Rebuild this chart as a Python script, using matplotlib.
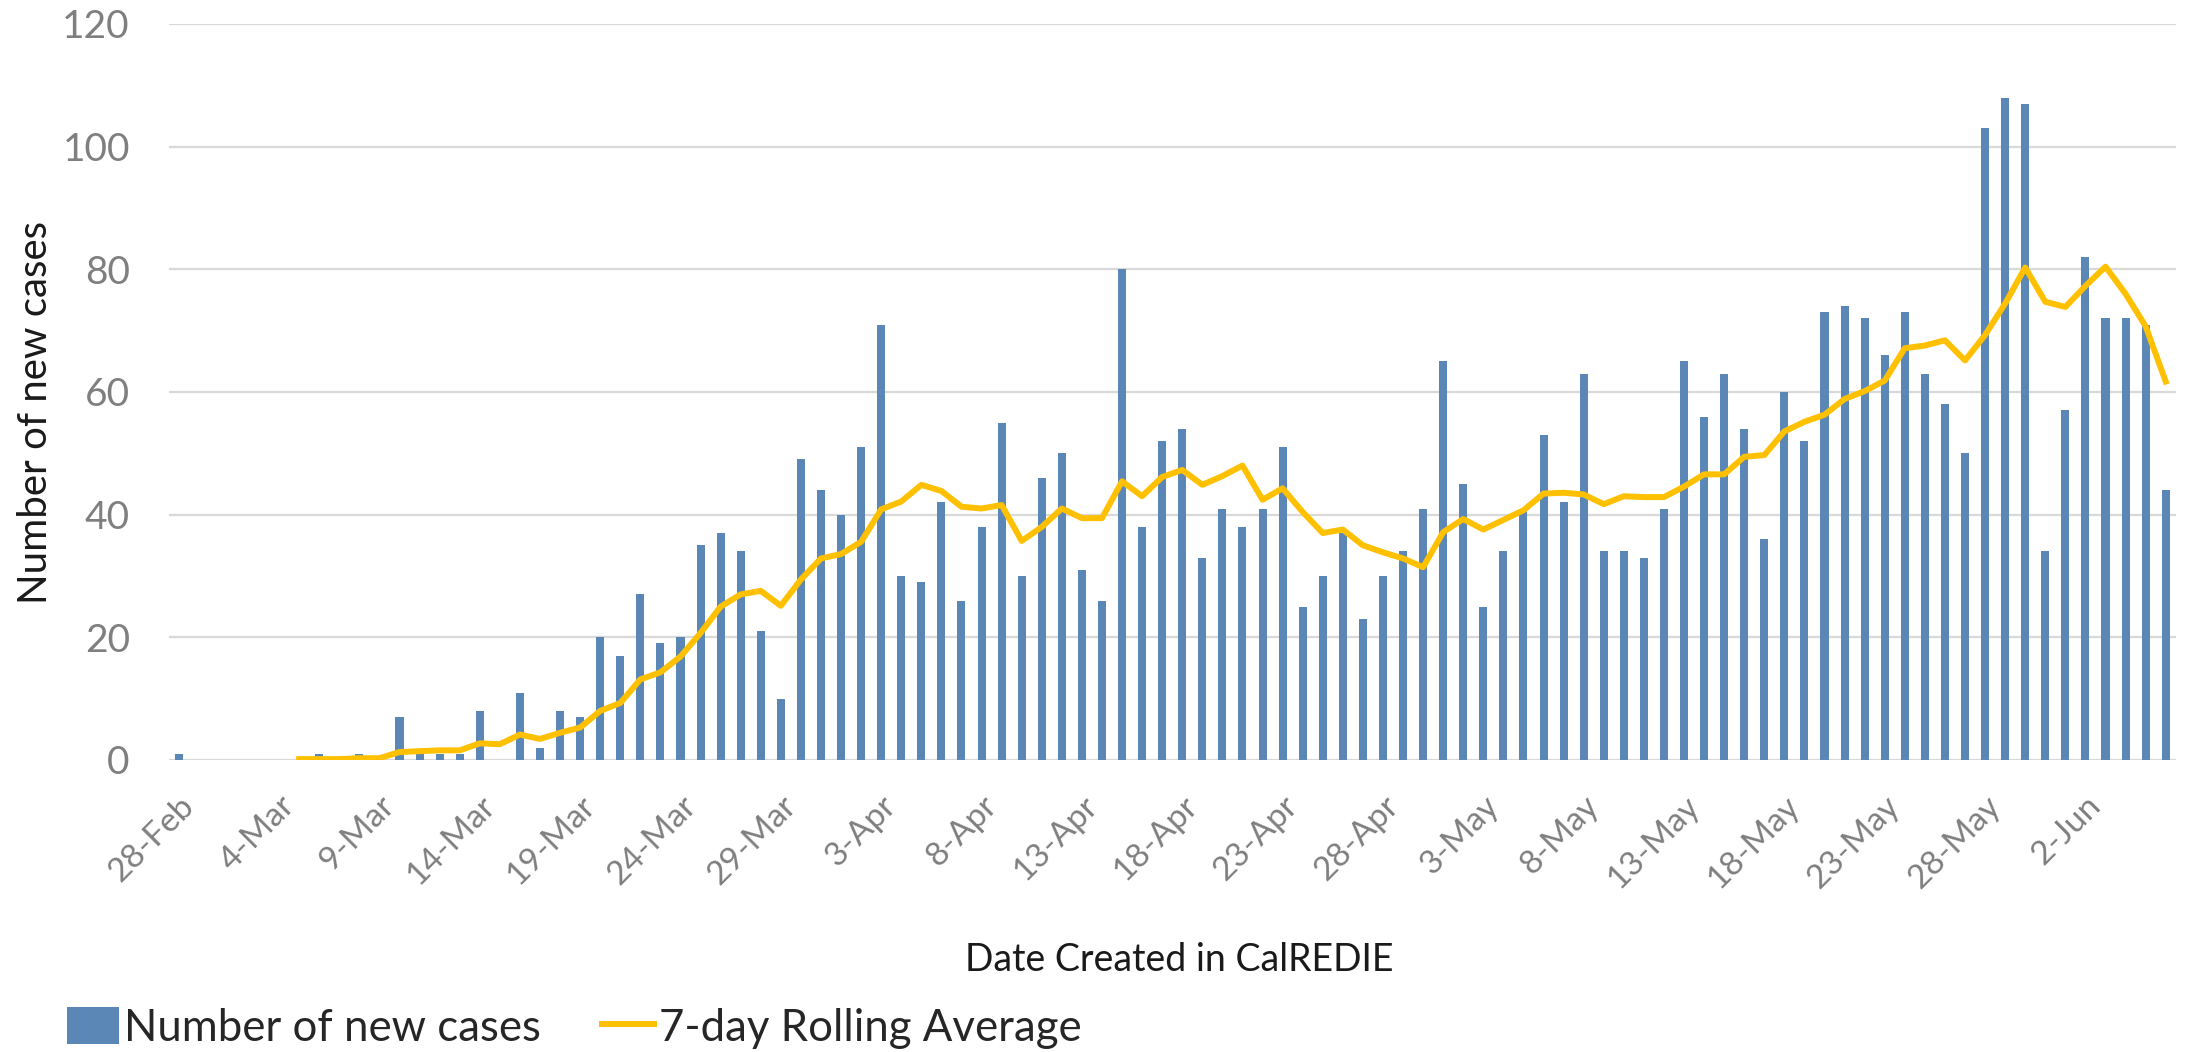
import matplotlib.pyplot as plt
import numpy as np
from matplotlib.patches import Patch
from matplotlib.lines import Line2D

plt.rcParams['font.family'] = ['Lato', 'DejaVu Sans']

# daily new cases, 28-Feb .. 6-Jun (2020)
new_cases = [1, 0, 0, 0, 0, 0, 0, 1, 0, 1,
             0, 7, 1, 1, 1, 8, 0, 11, 2, 8,
             7, 20, 17, 27, 19, 20, 35, 37, 34, 21,
             10, 49, 44, 40, 51, 71, 30, 29, 42, 26,
             38, 55, 30, 46, 50, 31, 26, 80, 38, 52,
             54, 33, 41, 38, 41, 51, 25, 30, 37, 23,
             30, 34, 41, 65, 45, 25, 34, 41, 53, 42,
             63, 34, 34, 33, 41, 65, 56, 63, 54, 36,
             60, 52, 73, 74, 72, 66, 73, 63, 58, 50,
             103, 108, 107, 34, 57, 82, 72, 72, 71, 44]

# 7-day rolling average as drawn (no value for the first 6 days)
rolling_avg = [np.nan] * 6 + [
    0.14, 0.14, 0.14, 0.29, 0.29, 1.29, 1.43, 1.57, 1.57, 2.71,
    2.57, 4.14, 3.43, 4.43, 5.29, 8.00, 9.29, 13.14, 14.29, 16.86,
    20.71, 25.00, 27.00, 27.57, 25.14, 29.43, 32.86, 33.57, 35.57, 40.86,
    42.14, 44.86, 43.86, 41.29, 41.00, 41.57, 35.71, 38.00, 41.00, 39.43,
    39.43, 45.43, 43.00, 46.14, 47.29, 44.86, 46.29, 48.00, 42.43, 44.29,
    40.43, 37.00, 37.57, 35.00, 33.86, 32.86, 31.43, 37.14, 39.29, 37.57,
    39.14, 40.71, 43.43, 43.57, 43.29, 41.71, 43.00, 42.86, 42.86, 44.57,
    46.57, 46.57, 49.43, 49.71, 53.57, 55.14, 56.29, 58.86, 60.14, 61.86,
    67.14, 67.57, 68.43, 65.14, 69.29, 74.43, 80.29, 74.71, 73.86, 77.29,
    80.43, 76.00, 70.71, 61.71]

tick_labels = ['28-Feb', '4-Mar', '9-Mar', '14-Mar', '19-Mar', '24-Mar',
               '29-Mar', '3-Apr', '8-Apr', '13-Apr', '18-Apr', '23-Apr',
               '28-Apr', '3-May', '8-May', '13-May', '18-May', '23-May',
               '28-May', '2-Jun']

bar_color = '#5B87B6'
line_color = '#FFC000'

x = np.arange(len(new_cases))

fig = plt.figure(figsize=(21.88, 10.52), dpi=100)
ax = fig.add_axes([0.0771, 0.2776, 0.9173, 0.6996])

ax.bar(x, new_cases, width=0.4, color=bar_color, zorder=2)
ax.plot(x, rolling_avg, color=line_color, lw=4.3, zorder=3,
        solid_joinstyle='round')

ax.set_xlim(-0.5, len(new_cases) - 0.5)
ax.set_ylim(0, 120)
ax.set_yticks(range(0, 121, 20))
ax.yaxis.grid(True, color='#D9D9D9', lw=1.6, zorder=0)
ax.set_axisbelow(True)
for s in ax.spines.values():
    s.set_visible(False)

ax.set_xticks(x[::5])
ax.set_xticklabels(tick_labels, rotation=45, ha='right', va='top',
                   rotation_mode='anchor')
ax.tick_params(axis='x', length=0, pad=22, labelsize=24, labelcolor='#7F7F7F')
ax.tick_params(axis='y', length=0, pad=28, labelsize=28, labelcolor='#7F7F7F')

fig.text(0.016, 0.608, 'Number of new cases', rotation=90, ha='center',
         va='center', fontsize=29, color='#1A1A1A')
fig.text(0.539, 0.0875, 'Date Created in CalREDIE', ha='center',
         va='center', fontsize=27, color='#1A1A1A')

handles = [Patch(facecolor=bar_color, label='Number of new cases'),
           Line2D([], [], color=line_color, lw=4.3, label='7-day Rolling Average')]
fig.legend(handles=handles, loc='center left', bbox_to_anchor=(0.0125, 0.0228),
           ncol=2, frameon=False, fontsize=31.5, handlelength=1.2,
           handleheight=0.9, handletextpad=0.1, columnspacing=1.4,
           labelcolor='#262626')

fig.savefig('out.png', dpi=100)
